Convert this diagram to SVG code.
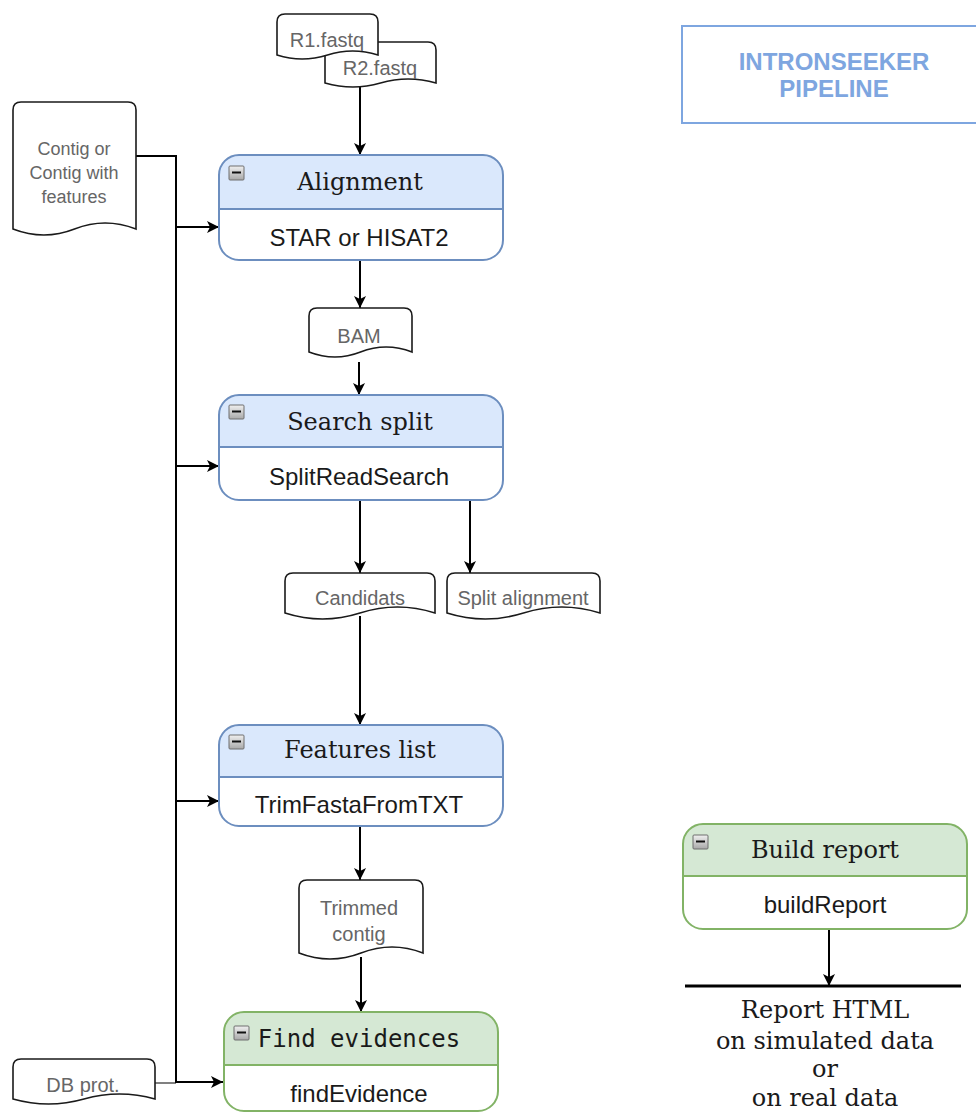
<svg xmlns="http://www.w3.org/2000/svg" width="976" height="1113" viewBox="0 0 976 1113">
<style>
.doc{fill:#fff;stroke:#1a1a1a;stroke-width:1.6}
.dtext{font-family:"Liberation Sans",Arial,sans-serif;font-size:20px;fill:#666;text-anchor:middle}
.title{font-family:"DejaVu Serif",serif;font-size:24px;fill:#1a1a1a;text-anchor:middle}
.mono{font-family:"DejaVu Sans Mono",monospace;font-size:24px;fill:#1a1a1a;text-anchor:middle}
.body{font-family:"Liberation Sans",Arial,sans-serif;font-size:24px;fill:#1a1a1a;text-anchor:middle}
.blue .hd{fill:#dae8fc}
.blue .ol{fill:none;stroke:#6c8ebf;stroke-width:2}
.green .hd{fill:#d5e8d4}
.green .ol{fill:none;stroke:#82b366;stroke-width:2}
.bg{fill:#fff}
.icon{fill:url(#ig);stroke:#6e6e6e;stroke-width:1}
.minus{stroke:#111;stroke-width:2}
.edge{fill:none;stroke:#000;stroke-width:2}
.arr{marker-end:url(#ah)}
</style>
<defs>
<linearGradient id="ig" x1="0" y1="0" x2="0" y2="1">
<stop offset="0" stop-color="#f0f0f0"/>
<stop offset="1" stop-color="#a8a8a8"/>
</linearGradient>
<marker id="ah" markerUnits="userSpaceOnUse" markerWidth="14" markerHeight="12" refX="12" refY="6" orient="auto">
<path d="M0,0 L12,6 L0,12 L3,6 Z" fill="#000"/>
</marker>
</defs>

<g id="connectors">
<path class="edge" d="M155,1083 H176" stroke="#808080" style="stroke:#808080"/>
<path class="edge arr" d="M136,156 H176 V1082 H223"/>
<path class="edge arr" d="M176,227 H219"/>
<path class="edge arr" d="M176,466 H219"/>
<path class="edge arr" d="M176,801 H219"/>
<path class="edge arr" d="M360,86 V155"/>
<path class="edge arr" d="M360,261 V308"/>
<path class="edge arr" d="M359,362 V395"/>
<path class="edge arr" d="M360,500 V573"/>
<path class="edge arr" d="M470,500 V573"/>
<path class="edge arr" d="M360,616 V725"/>
<path class="edge arr" d="M360,827 V880"/>
<path class="edge arr" d="M361,957 V1012"/>
<path class="edge arr" d="M829,930 V986"/>
</g>

<g id="r2-fastq">
<path class="doc" d="M325,83 V50 Q325,42 333,42 H428 Q436,42 436,50 V83 Q408,75 380.5,83 Q353,91 325,83 Z"/>
<text class="dtext" x="380" y="75">R2.fastq</text>
</g>
<g id="r1-fastq">
<path class="doc" d="M277,55 V22 Q277,14 285,14 H370 Q378,14 378,22 V55 Q352.5,47 327.5,55 Q302,63 277,55 Z"/>
<text class="dtext" x="327" y="47">R1.fastq</text>
</g>

<g id="contig">
<path class="doc" d="M13,229 V110 Q13,102 21,102 H128 Q136,102 136,110 V229 Q105,217 74.5,229 Q44,241 13,229 Z"/>
<text class="dtext" style="font-size:18px" x="74" y="155">Contig or</text>
<text class="dtext" style="font-size:18px" x="74" y="179">Contig with</text>
<text class="dtext" style="font-size:18px" x="74" y="203">features</text>
</g>

<g id="bam">
<path class="doc" d="M309,352 V316 Q309,308 317,308 H404 Q412,308 412,316 V352 Q386,342 360.5,352 Q335,362 309,352 Z"/>
<text class="dtext" x="359" y="343">BAM</text>
</g>

<g id="candidats">
<path class="doc" d="M285,613 V581 Q285,573 293,573 H427 Q435,573 435,581 V613 Q397.5,601 360,613 Q322.5,625 285,613 Z"/>
<text class="dtext" x="360" y="605">Candidats</text>
</g>

<g id="split-alignment">
<path class="doc" d="M447,613 V581 Q447,573 455,573 H592 Q600,573 600,581 V613 Q561.75,601 523.5,613 Q485.25,625 447,613 Z"/>
<text class="dtext" x="523" y="605">Split alignment</text>
</g>

<g id="trimmed-contig">
<path class="doc" d="M299,953 V888 Q299,880 307,880 H415 Q423,880 423,888 V953 Q392,941 361,953 Q330,965 299,953 Z"/>
<text class="dtext" x="359" y="915">Trimmed</text>
<text class="dtext" x="359" y="941">contig</text>
</g>

<g id="db-prot">
<path class="doc" d="M13,1099 V1067 Q13,1059 21,1059 H147 Q155,1059 155,1067 V1099 Q119.5,1089 84,1099 Q48.5,1109 13,1099 Z"/>
<text class="dtext" x="83" y="1092">DB prot.</text>
</g>

<g id="alignment" class="blue">
<rect class="bg" x="219" y="155" width="284" height="105" rx="20"/>
<path class="hd" d="M219,209 V175 A20,20 0 0 1 239,155 H483 A20,20 0 0 1 503,175 V209 Z"/>
<line class="ol" x1="219" y1="209" x2="503" y2="209"/>
<rect class="ol" x="219" y="155" width="284" height="105" rx="20"/>
<rect class="icon" x="229" y="166" width="15" height="14" rx="1"/>
<line class="minus" x1="232" y1="172.5" x2="241" y2="172.5"/>
<text class="title" x="360" y="190">Alignment</text>
<text class="body" x="359" y="246">STAR or HISAT2</text>
</g>

<g id="search-split" class="blue">
<rect class="bg" x="219" y="395" width="284" height="105" rx="20"/>
<path class="hd" d="M219,447 V415 A20,20 0 0 1 239,395 H483 A20,20 0 0 1 503,415 V447 Z"/>
<line class="ol" x1="219" y1="447" x2="503" y2="447"/>
<rect class="ol" x="219" y="395" width="284" height="105" rx="20"/>
<rect class="icon" x="229" y="405" width="15" height="14" rx="1"/>
<line class="minus" x1="232" y1="411.5" x2="241" y2="411.5"/>
<text class="title" x="360" y="430">Search split</text>
<text class="body" x="359" y="485">SplitReadSearch</text>
</g>

<g id="features-list" class="blue">
<rect class="bg" x="219" y="725" width="284" height="101" rx="20"/>
<path class="hd" d="M219,777 V745 A20,20 0 0 1 239,725 H483 A20,20 0 0 1 503,745 V777 Z"/>
<line class="ol" x1="219" y1="777" x2="503" y2="777"/>
<rect class="ol" x="219" y="725" width="284" height="101" rx="20"/>
<rect class="icon" x="229" y="735" width="15" height="14" rx="1"/>
<line class="minus" x1="232" y1="741.5" x2="241" y2="741.5"/>
<text class="title" x="360" y="758">Features list</text>
<text class="body" x="359" y="813">TrimFastaFromTXT</text>
</g>

<g id="find-evidences" class="green">
<rect class="bg" x="224" y="1012" width="274" height="99" rx="20"/>
<path class="hd" d="M224,1065 V1032 A20,20 0 0 1 244,1012 H478 A20,20 0 0 1 498,1032 V1065 Z"/>
<line class="ol" x1="224" y1="1065" x2="498" y2="1065"/>
<rect class="ol" x="224" y="1012" width="274" height="99" rx="20"/>
<rect class="icon" x="234" y="1026" width="15" height="14" rx="1"/>
<line class="minus" x1="237" y1="1032.5" x2="246" y2="1032.5"/>
<text class="mono" x="359" y="1047">Find evidences</text>
<text class="body" x="359" y="1102">findEvidence</text>
</g>

<g id="build-report" class="green">
<rect class="bg" x="683" y="824" width="284" height="105" rx="20"/>
<path class="hd" d="M683,876 V844 A20,20 0 0 1 703,824 H947 A20,20 0 0 1 967,844 V876 Z"/>
<line class="ol" x1="683" y1="876" x2="967" y2="876"/>
<rect class="ol" x="683" y="824" width="284" height="105" rx="20"/>
<rect class="icon" x="693" y="835" width="15" height="14" rx="1"/>
<line class="minus" x1="696" y1="841.5" x2="705" y2="841.5"/>
<text class="title" x="825" y="858">Build report</text>
<text class="body" x="825" y="913">buildReport</text>
</g>

<g id="report-html">
<line x1="685" y1="986" x2="961" y2="986" stroke="#000" stroke-width="3"/>
<text class="title" x="825" y="1018">Report HTML</text>
<text class="title" x="825" y="1049">on simulated data</text>
<text class="title" x="825" y="1077">or</text>
<text class="title" x="825" y="1106">on real data</text>
</g>

<g id="intronseeker-pipeline">
<rect x="682" y="26" width="300" height="97" fill="#fff" stroke="#7ea6e0" stroke-width="2"/>
<text x="834" y="70" font-family="Liberation Sans, Arial, sans-serif" font-size="24" font-weight="bold" fill="#7ea6e0" text-anchor="middle">INTRONSEEKER</text>
<text x="834" y="97" font-family="Liberation Sans, Arial, sans-serif" font-size="24" font-weight="bold" fill="#7ea6e0" text-anchor="middle">PIPELINE</text>
</g>
</svg>
